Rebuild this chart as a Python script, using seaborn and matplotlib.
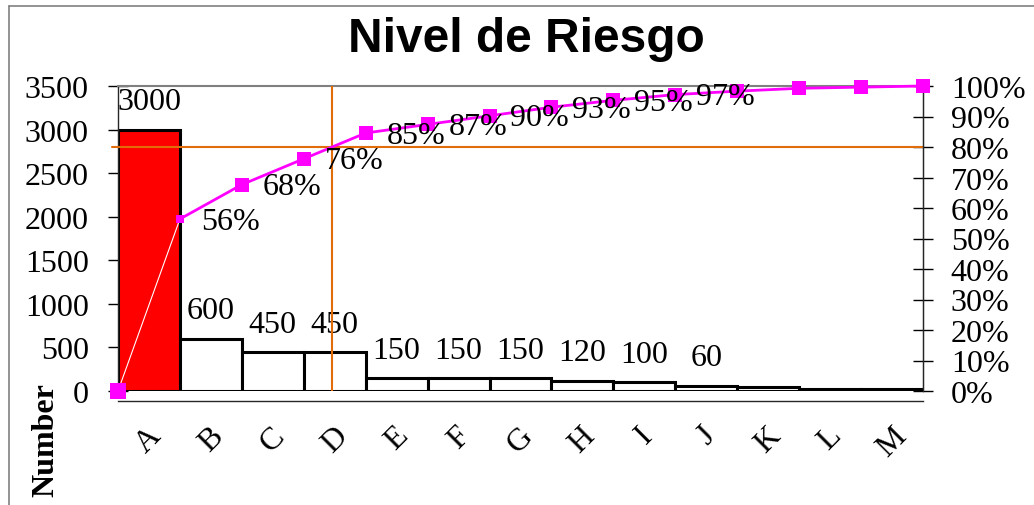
import matplotlib
matplotlib.use("Agg")
import matplotlib.pyplot as plt
import numpy as np
import pandas as pd
import seaborn as sns
from matplotlib.lines import Line2D
from matplotlib.ticker import FixedLocator

categories = ["A", "B", "C", "D", "E", "F", "G", "H", "I", "J", "K", "L", "M"]
counts = [3000, 600, 450, 450, 150, 150, 150, 120, 100, 60, 50, 20, 20]
n_labeled_bars = 10   # K, L, M carry no value label
n_labeled_pcts = 9    # percent labels shown from 56% to 97%

magenta = "#FF00FF"
orange = "#E36C0A"
gray = "#808080"

sns.set_style("white")
plt.rcParams["font.family"] = ["Liberation Serif", "DejaVu Serif"]
plt.rcParams.update({"text.color": "black", "xtick.color": "black",
                     "ytick.color": "black", "axes.labelcolor": "black"})

df = pd.DataFrame({"cat": categories, "n": counts})
cum = np.concatenate([[0], np.cumsum(counts)]) / sum(counts) * 100
edges = np.arange(len(categories) + 1) - 0.5

fig = plt.figure(figsize=(10.34, 5.06), dpi=100)
ax = fig.add_axes([118 / 1034, 1 - 392 / 506, (923 - 118) / 1034, (392 - 87) / 506])

sns.barplot(data=df, x="cat", y="n", ax=ax, width=1.0, color="white",
            edgecolor="black", linewidth=2.2, zorder=2)
ax.patches[0].set_facecolor("#FF0000")

ax.set_xlim(-0.5, len(categories) - 0.5)
ax.set_ylim(0, 3500)
ax.set_yticks(range(0, 3501, 500))
ax.set_xlabel("")
ax.set_ylabel("")
ax.tick_params(axis="y", direction="inout", length=14, width=1, labelsize=23, pad=14)

# category axis: ticks at bar edges, labels at centres
ax.xaxis.set_major_locator(FixedLocator(edges))
ax.xaxis.set_minor_locator(FixedLocator(np.arange(len(categories))))
ax.set_xticklabels([""] * len(edges))
ax.set_xticklabels(categories, minor=True)
ax.tick_params(axis="x", which="major", direction="out", length=7, width=1)
ax.tick_params(axis="x", which="minor", length=0, labelsize=23, pad=14, labelrotation=45)
plt.setp(ax.get_xticklabels(minor=True), ha="center", va="top")
ax.spines["bottom"].set_position(("outward", 7.5))
ax.spines["bottom"].set_linewidth(1)
ax.spines["left"].set_linewidth(1)
ax.spines["top"].set_color(gray)
ax.spines["top"].set_linewidth(1.5)
ax.axhline(0, color=gray, lw=1.2, zorder=1)

for i in range(n_labeled_bars):
    ax.annotate(str(counts[i]), (i, counts[i]), xytext=(0, 20), textcoords="offset points",
                ha="center", va="center", fontsize=23)

ax2 = ax.twinx()
ax2.set_ylim(0, 100)
ax2.set_yticks(range(0, 101, 10))
ax2.set_yticklabels([f"{v}%" for v in range(0, 101, 10)])
ax2.tick_params(axis="y", direction="inout", length=14, width=1, labelsize=23, pad=13)
for s in ["top", "left", "bottom"]:
    ax2.spines[s].set_visible(False)
ax2.spines["right"].set_linewidth(1)

# 80% reference lines
x80 = np.interp(80, cum, edges)
ax2.axhline(80, xmin=-0.007, xmax=1, color=orange, lw=1.5, clip_on=False, zorder=1)
ax2.axvline(x80, color=orange, lw=1.5, zorder=1)

sns.lineplot(x=edges[1:], y=cum[1:], ax=ax2, color=magenta, lw=2, marker="s",
             markersize=10, markeredgewidth=0, markevery=list(range(1, len(categories))),
             sort=False, clip_on=False, zorder=4)
ax2.plot(edges[:2], cum[:2], color="white", lw=0.8, zorder=4)
ax2.plot(edges[1], cum[1], "s", ms=6, mew=0, color=magenta, zorder=5)
ax2.plot(edges[0], cum[0], "s", ms=11, mew=0, color=magenta, clip_on=False, zorder=5)

for i in range(1, n_labeled_pcts + 1):
    ax2.annotate(f"{cum[i]:.0f}%", (edges[i], cum[i]), xytext=(15, -1.5),
                 textcoords="offset points", ha="left", va="center", fontsize=23, zorder=6)

fig.text(526 / 1034, 1 - 40 / 506, "Nivel de Riesgo", ha="center", va="center",
         fontsize=34.5, fontweight="bold", family=["Liberation Sans", "DejaVu Sans"])
fig.text(46 / 1034, 1 - 440 / 506, "Number", rotation=90, ha="center", va="center",
         fontsize=23, fontweight="bold")

# chart area border (only top and left edges visible in the crop)
fig.add_artist(Line2D([9 / 1034, 1], [1 - 7 / 506, 1 - 7 / 506], color=gray, lw=1.2))
fig.add_artist(Line2D([9 / 1034, 9 / 1034], [0, 1 - 7 / 506], color=gray, lw=1.2))

fig.savefig("out.png", dpi=100)
